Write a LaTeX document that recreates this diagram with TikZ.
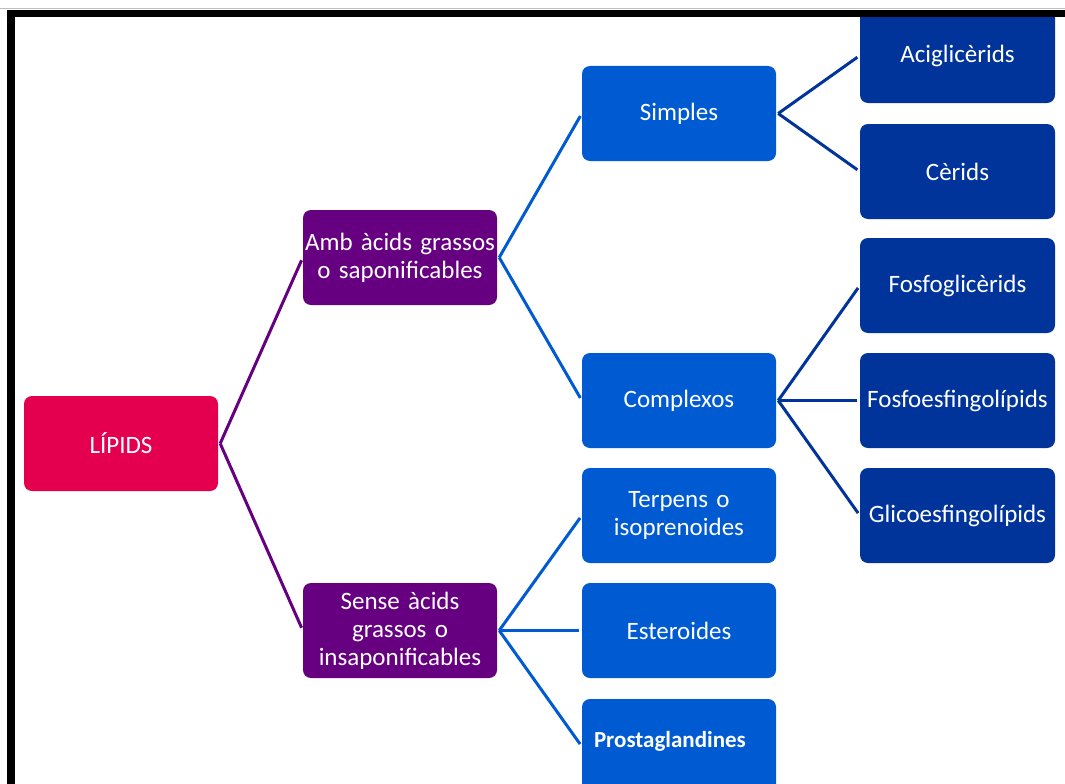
\documentclass[tikz,border=0pt]{standalone}
\usepackage{fontspec}
\setmainfont{Carlito}
\usetikzlibrary{calc}
\definecolor{crim}{HTML}{E4004F}
\definecolor{purp}{HTML}{660080}
\definecolor{midblue}{HTML}{005BD3}
\definecolor{darkblue}{HTML}{00349B}
\tikzset{
  box/.style={rounded corners=8pt, minimum width=194pt, minimum height=95pt, text width=192pt, align=center, text=white, font=\fontsize{25}{28}\selectfont, inner sep=1pt},
  lvlzero/.style={box, fill=crim},
  lvlone/.style={box, fill=purp},
  lvltwo/.style={box, fill=midblue},
  lvlthree/.style={box, fill=darkblue, minimum width=195pt},
  conn/.style={line width=3pt, shorten >=3pt},
}
\begin{document}
\begin{tikzpicture}[x=1pt,y=-1pt]
\useasboundingbox (0,0) rectangle (1065,784);
\clip (0,0) rectangle (1065,784);
\fill[white] (0,0) rectangle (1065,784);
% nodes
\node[lvlzero] (L) at (121,443.5) {LÍPIDS};
\node[lvlone] (A) at (400,257.5) {Amb àcids grassos\\o saponificables};
\node[lvlone] (S) at (400,630.5) {Sense àcids\\grassos o\\insaponificables};
\node[lvltwo] (Si) at (679,113.5) {Simples};
\node[lvltwo] (Co) at (679,400.5) {Complexos};
\node[lvltwo] (T) at (679,515.5) {Terpens o\\isoprenoides};
\node[lvltwo] (E) at (679,630.5) {Esteroides};
\node[lvltwo] (P) at (679,746.5) {};
\node[anchor=west, text=white, inner sep=0pt, font=\fontsize{23}{28}\selectfont\bfseries] (Pt) at ($(P.west)+(12,-5.5)$) {Prostaglandines};
\node[lvlthree] (Ac) at (957.5,55.5) {Aciglicèrids};
\node[lvlthree] (Ce) at (957.5,171.5) {Cèrids};
\node[lvlthree] (Fg) at (957.5,285.5) {Fosfoglicèrids};
\node[lvlthree] (Fe) at (957.5,400.5) {Fosfoesfingolípids};
\node[lvlthree] (Gl) at (957.5,515.5) {Glicoesfingolípids};
% fork points
\coordinate (Lf) at ($(L.east)+(2,0)$);
\coordinate (Af) at ($(A.east)+(2,0)$);
\coordinate (Sf) at ($(S.east)+(2,0)$);
\coordinate (Sif) at ($(Si.east)+(2,0)$);
\coordinate (Cof) at ($(Co.east)+(2,0)$);
% connectors
\draw[conn, purp] (Lf) -- (A.west);
\draw[conn, purp] (Lf) -- (S.west);
\draw[conn, midblue] (Af) -- (Si.west);
\draw[conn, midblue] (Af) -- (Co.west);
\draw[conn, midblue] (Sf) -- (T.west);
\draw[conn, midblue] (Sf) -- (E.west);
\draw[conn, midblue] (Sf) -- (P.west);
\draw[conn, darkblue] (Sif) -- (Ac.west);
\draw[conn, darkblue] (Sif) -- (Ce.west);
\draw[conn, darkblue] (Cof) -- (Fg.west);
\draw[conn, darkblue] (Cof) -- (Fe.west);
\draw[conn, darkblue] (Cof) -- (Gl.west);
% frame
\fill[white] (0,0) rectangle (1065,10);
\draw[black!25, line width=1pt] (0,8.5) -- (1065,8.5);
\fill[black] (7,10) rectangle (1065,17);
\fill[black] (7,10) rectangle (15,784);
\end{tikzpicture}
\end{document}
